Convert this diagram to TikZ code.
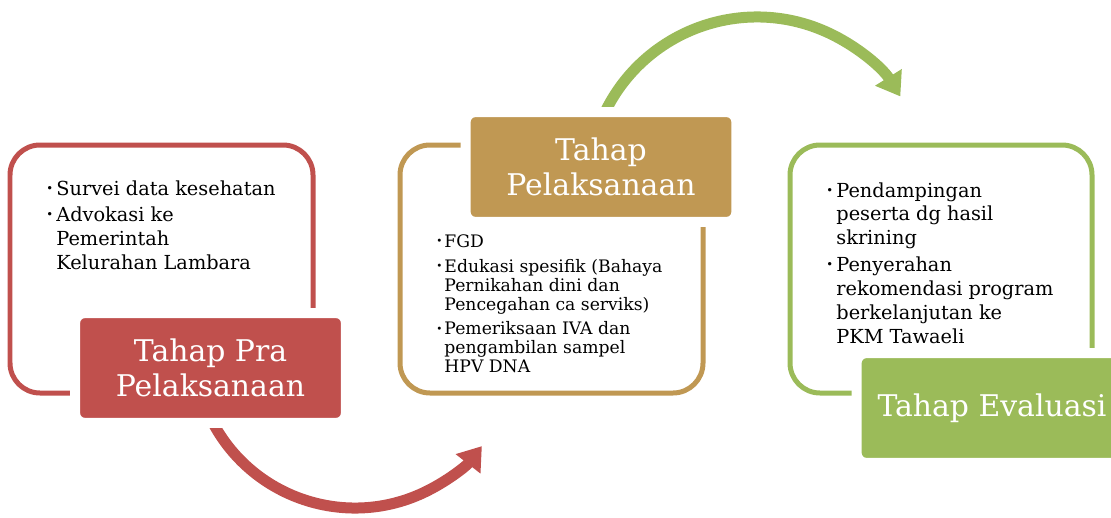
\documentclass[tikz,border=0pt]{standalone}
\usepackage{fontspec}
\setmainfont{DejaVu Serif}
\usetikzlibrary{arrows.meta}
\definecolor{praRed}{RGB}{192, 80, 77}
\definecolor{pelGold}{RGB}{192, 152, 83}
\definecolor{evalGreen}{RGB}{155, 187, 89}
\newcommand{\bul}[1][5.7pt]{\makebox[#1][l]{\raisebox{0.3ex}{\scalebox{0.6}{•}}}}
\newcommand{\ind}[1][5.7pt]{\hspace*{#1}}

\begin{document}
\begin{tikzpicture}[
    x=0.02cm, y=-0.02cm,
    stageframe/.style={draw=#1, line width=0.1cm, rounded corners=0.6cm},
    stagebox/.style={rectangle, fill=#1, draw=white, line width=0.2cm, rounded corners=0.2cm, minimum width=5.42cm, minimum height=2.2cm, inner sep=0pt, align=center, text=white, font=\fontsize{17}{20}\selectfont},
    itemtext/.style={anchor=north west, align=left, inner sep=0pt, font=\fontsize{11}{13.6}\selectfont},
    turnarrow/.style={draw=#1, line width=0.22cm, -{Triangle[length=0.45cm, width=0.6cm]}}
]
    \useasboundingbox (0,0) rectangle (1111,517);

    % Cycle arrows
    \coordinate (praTurn) at (355,347);
    \coordinate (pelTurn) at (757,186);
    \draw[turnarrow=praRed] (praTurn) ++(155:161) arc[start angle=155, end angle=38, radius=161];
    \draw[turnarrow=evalGreen] (pelTurn) ++(204:169) arc[start angle=204, end angle=328, radius=169];

    % Frames
    \draw[stageframe=praRed] (10,145) rectangle (313,393);
    \draw[stageframe=pelGold] (400,145) rectangle (703,393);
    \draw[stageframe=evalGreen] (790,145) rectangle (1092,393);

    % Stages
    \node[stagebox=praRed] (pra) at (210.5,368) {Tahap Pra\\Pelaksanaan};
    \node[stagebox=pelGold] (pel) at (601,167) {Tahap\\Pelaksanaan};
    \node[stagebox=evalGreen] (eval) at (992,408) {Tahap Evaluasi};

    % Activities
    \node[itemtext] (praText) at (46,180) {\bul Survei data kesehatan\\[1.5pt]
        \bul Advokasi ke\\ \ind Pemerintah\\ \ind Kelurahan Lambara};
    \node[itemtext, font=\fontsize{9.8}{10.8}\selectfont] (pelText) at (436,234) {\bul[4.6pt]FGD\\[3.4pt]
        \bul[4.6pt]Edukasi spesifik (Bahaya\\ \ind[4.6pt]Pernikahan dini dan\\ \ind[4.6pt]Pencegahan ca serviks)\\[3.4pt]
        \bul[4.6pt]Pemeriksaan IVA dan\\ \ind[4.6pt]pengambilan sampel\\ \ind[4.6pt]HPV DNA};
    \node[itemtext] (evalText) at (826,182) {\bul Pendampingan\\ \ind peserta dg hasil\\ \ind skrining\\[1.5pt]
        \bul Penyerahan\\ \ind rekomendasi program\\ \ind berkelanjutan ke\\ \ind PKM Tawaeli};
\end{tikzpicture}
\end{document}
